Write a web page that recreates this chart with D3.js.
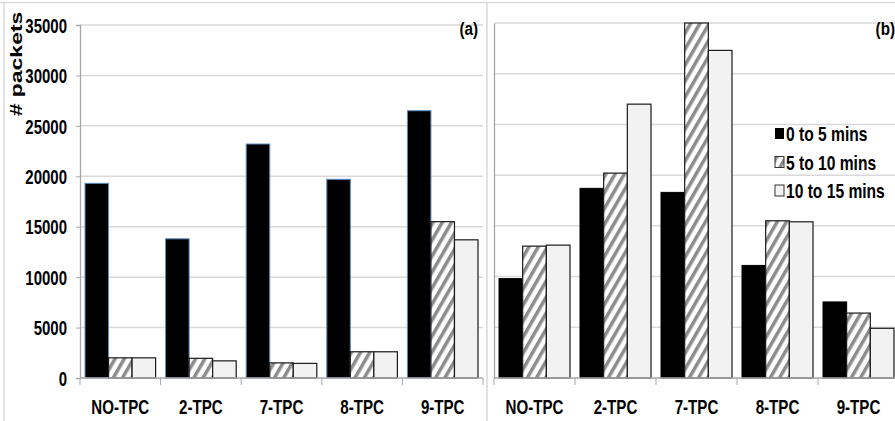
<!DOCTYPE html>
<html>
<head>
<meta charset="utf-8">
<script src="https://cdn.jsdelivr.net/npm/d3@7"></script>
<style>
  body { margin: 0; background: #fff; }
  text { font-family: "Liberation Sans", Arial, sans-serif; font-weight: bold; fill: #000; }
</style>
</head>
<body>
<script>
// data
var categories = ['NO-TPC', '2-TPC', '7-TPC', '8-TPC', '9-TPC'];
var series = ['0 to 5 mins', '5 to 10 mins', '10 to 15 mins'];
// panel (a)
var a0to5 = [19300, 13800, 23200, 19700, 26500];
var a5to10 = [2000, 1950, 1500, 2600, 15500];
var a10to15 = [2000, 1700, 1450, 2600, 13700];
// panel (b)
var b0to5 = [9800, 18700, 18300, 11100, 7500];
var b5to10 = [13000, 20200, 35000, 15500, 6400];
var b10to15 = [13100, 27000, 32300, 15400, 4900];
var yTicks = [0, 5000, 10000, 15000, 20000, 25000, 30000, 35000];

var W = 895, H = 421;

var svg = d3.select('body').append('svg')
    .attr('width', W)
    .attr('height', H);

// hatch pattern for the middle series
var defs = svg.append('defs');
var pat = defs.append('pattern')
    .attr('id', 'hatch')
    .attr('patternUnits', 'userSpaceOnUse')
    .attr('width', 8)
    .attr('height', 8)
    .attr('patternTransform', 'rotate(30)');
pat.append('rect').attr('width', 8).attr('height', 8).attr('fill', '#fff');
pat.append('rect').attr('x', 0).attr('width', 3.5).attr('height', 8).attr('fill', '#8c8c8c');

var fills = ['#000', 'url(#hatch)', '#f2f2f2'];

// outer frame lines
svg.append('line').attr('x1', 0).attr('x2', W).attr('y1', 2.5).attr('y2', 2.5)
    .attr('stroke', '#d9d9d9').attr('stroke-width', 1.5);
svg.append('line').attr('x1', 4).attr('x2', 4).attr('y1', 2).attr('y2', H)
    .attr('stroke', '#d9d9d9').attr('stroke-width', 1.5);
svg.append('line').attr('x1', 487).attr('x2', 487).attr('y1', 2).attr('y2', H)
    .attr('stroke', '#d9d9d9').attr('stroke-width', 1.5);

function drawPanel(opts) {
    var y = d3.scaleLinear().domain([0, 35000]).range([378, opts.yTop]);
    var x0 = d3.scaleBand().domain(categories).range([opts.left, opts.right]);
    var x1 = d3.scaleBand().domain(series).range([5, x0.bandwidth() - 5]);

    var g = svg.append('g');

    // gridlines
    g.selectAll('.grid')
        .data(yTicks.slice(1))
        .enter().append('line')
        .attr('x1', opts.left).attr('x2', opts.gridEnd)
        .attr('y1', function(d) { return y(d); })
        .attr('y2', function(d) { return y(d); })
        .attr('stroke', '#d9d9d9').attr('stroke-width', 1.5);

    // y axis
    var yAxis = g.append('g')
        .attr('transform', 'translate(' + opts.left + ',0)')
        .call(d3.axisLeft(y).tickValues(yTicks).tickSize(opts.showLabels ? 4 : 0)
            .tickFormat(opts.showLabels ? d3.format('d') : ''));
    yAxis.select('.domain').attr('stroke', '#a6a6a6').attr('stroke-width', 1.3);
    yAxis.selectAll('.tick line').attr('stroke', '#a6a6a6');
    yAxis.selectAll('.tick text')
        .attr('x', 0)
        .attr('dy', '0.36em')
        .attr('transform', 'translate(-13,0) scale(0.75,1)')
        .style('font-size', '20px');

    // bars
    var rows = categories.map(function(c, i) {
        return { cat: c, vals: [opts.data[0][i], opts.data[1][i], opts.data[2][i]] };
    });
    var grp = g.selectAll('.grp')
        .data(rows)
        .enter().append('g')
        .attr('transform', function(d) { return 'translate(' + x0(d.cat) + ',0)'; });
    grp.selectAll('rect')
        .data(function(d) { return d.vals.map(function(v, k) { return { s: series[k], k: k, v: v }; }); })
        .enter().append('rect')
        .attr('x', function(d) { return x1(d.s); })
        .attr('y', function(d) { return y(d.v); })
        .attr('width', x1.bandwidth())
        .attr('height', function(d) { return 378 - y(d.v); })
        .attr('fill', function(d) { return fills[d.k]; })
        .attr('stroke', function(d) {
            if (d.k === 0) return opts.blackEdge;
            return '#1a1a1a';
        })
        .attr('stroke-width', function(d) { return d.k === 0 ? 1 : 1.2; });

    // x axis with category boundary ticks
    var xAxis = g.append('g')
        .attr('transform', 'translate(0,378)');
    xAxis.append('line')
        .attr('x1', opts.left).attr('x2', opts.right)
        .attr('stroke', '#a6a6a6').attr('stroke-width', 1.3);
    xAxis.selectAll('.xt')
        .data(categories.concat(['end']))
        .enter().append('line')
        .attr('x1', function(d, i) { return opts.left + i * x0.bandwidth(); })
        .attr('x2', function(d, i) { return opts.left + i * x0.bandwidth(); })
        .attr('y1', 0).attr('y2', 7)
        .attr('stroke', '#a6a6a6');
    xAxis.selectAll('.xl')
        .data(categories)
        .enter().append('text')
        .attr('transform', function(d) {
            return 'translate(' + (x0(d) + x0.bandwidth() / 2) + ',36) scale(0.72,1)';
        })
        .attr('text-anchor', 'middle')
        .style('font-size', '21px')
        .text(function(d) { return d; });

    // panel tag
    g.append('text')
        .attr('transform', 'translate(' + opts.tagX + ',35) scale(0.8,1)')
        .attr('text-anchor', 'end')
        .style('font-size', '19px')
        .text(opts.tag);
}

drawPanel({
    left: 80, right: 483, gridEnd: 483, yTop: 25, showLabels: true,
    data: [a0to5, a5to10, a10to15], blackEdge: '#5b8ac6', tag: '(a)', tagX: 478
});
drawPanel({
    left: 494, right: 899, gridEnd: 895, yTop: 23, showLabels: false,
    data: [b0to5, b5to10, b10to15], blackEdge: '#000', tag: '(b)', tagX: 895
});

// y axis title (stretched along its length like the original)
svg.append('text')
    .attr('transform', 'translate(22,64) rotate(-90) scale(1.35,1)')
    .attr('text-anchor', 'middle')
    .style('font-size', '17px')
    .text('# packets');

// legend
var legend = svg.append('g').attr('transform', 'translate(775,128)');
var li = legend.selectAll('.li')
    .data(series)
    .enter().append('g')
    .attr('transform', function(d, i) { return 'translate(0,' + (i * 28.5) + ')'; });
li.append('rect')
    .attr('x', 0).attr('y', 0)
    .attr('width', 9).attr('height', 11)
    .attr('fill', function(d, i) { return fills[i]; })
    .attr('stroke', function(d, i) { return i === 0 ? 'none' : '#333'; });
li.append('text')
    .attr('transform', 'translate(11,13) scale(0.78,1)')
    .style('font-size', '20px')
    .text(function(d) { return d; });
</script>
</body>
</html>
